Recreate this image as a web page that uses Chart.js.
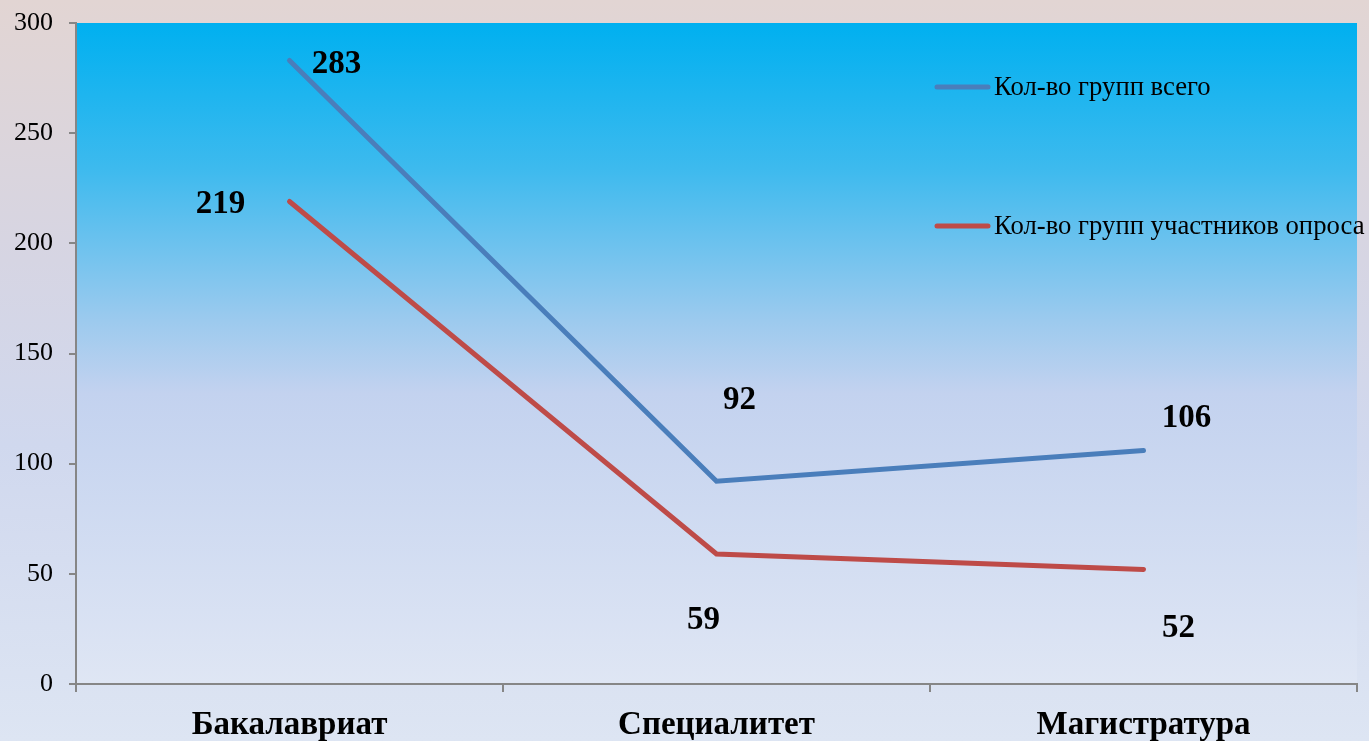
<!DOCTYPE html>
<html>
<head>
<meta charset="utf-8">
<script src="https://cdn.jsdelivr.net/npm/chart.js@4.4.1/dist/chart.umd.min.js"></script>
<style>
html,body{margin:0;padding:0;}
body{width:1369px;height:741px;overflow:hidden;
background:linear-gradient(to bottom,#e2d5d3 0%,#d6d5e3 35%,#d0d8ee 60%,#dde5f3 100%);}
canvas{display:block;}
</style>
</head>
<body>
<canvas id="c" width="1369" height="741"></canvas>
<script>
const categories = ['Бакалавриат', 'Специалитет', 'Магистратура'];
const seriesNames = ['Кол-во групп всего', 'Кол-во групп участников опроса'];
const totalGroups = [283, 92, 106];
const surveyedGroups = [219, 59, 52];
const yTicks = [0, 50, 100, 150, 200, 250, 300];

const seriesColors = ['#4a7ebb', '#be4b48'];
// label offsets (style): [dx, dy] relative to point
const labelOffsets = [
  [[47, 4], [23, -81], [43, -32]],
  [[-69, 3], [-13, 66], [35, 59]]
];

const bgPlugin = {
  id: 'plotBg',
  beforeDraw(chart) {
    const {ctx, chartArea: a} = chart;
    const g = ctx.createLinearGradient(0, a.top, 0, a.bottom);
    g.addColorStop(0, '#00b0f0');
    g.addColorStop(0.22, '#3dbaee');
    g.addColorStop(0.45, '#9ccaee');
    g.addColorStop(0.56, '#c3d2ef');
    g.addColorStop(1, '#dfe6f4');
    ctx.save();
    ctx.fillStyle = g;
    ctx.fillRect(a.left, a.top, a.right - a.left, a.bottom - a.top);
    ctx.restore();
  }
};

const labelPlugin = {
  id: 'labels',
  afterDatasetsDraw(chart) {
    const ctx = chart.ctx;
    ctx.save();
    ctx.font = 'bold 33px "Liberation Serif"';
    ctx.fillStyle = '#000';
    ctx.textAlign = 'center';
    ctx.textBaseline = 'middle';
    chart.data.datasets.forEach((ds, di) => {
      const meta = chart.getDatasetMeta(di);
      meta.data.forEach((pt, i) => {
        const o = labelOffsets[di][i];
        ctx.fillText(String(ds.data[i]), pt.x + o[0], pt.y + o[1]);
      });
    });
    ctx.restore();
  }
};

const legendPlugin = {
  id: 'customLegend',
  afterDraw(chart) {
    const ctx = chart.ctx;
    const ys = [87, 226];
    ctx.save();
    ctx.font = '26.7px "Liberation Serif"';
    ctx.textBaseline = 'middle';
    ctx.textAlign = 'left';
    chart.data.datasets.forEach((ds, i) => {
      ctx.strokeStyle = ds.borderColor;
      ctx.lineWidth = 5;
      ctx.lineCap = 'round';
      ctx.beginPath();
      ctx.moveTo(937, ys[i]);
      ctx.lineTo(988, ys[i]);
      ctx.stroke();
      ctx.fillStyle = '#000';
      ctx.fillText(ds.label, 994, ys[i] + 1);
    });
    ctx.restore();
  }
};

new Chart(document.getElementById('c'), {
  type: 'line',
  data: {
    labels: categories,
    datasets: [
      {label: seriesNames[0], data: totalGroups, borderColor: seriesColors[0], backgroundColor: seriesColors[0],
       borderWidth: 5, pointRadius: 0, tension: 0, borderCapStyle: 'round', borderJoinStyle: 'miter', fill: false},
      {label: seriesNames[1], data: surveyedGroups, borderColor: seriesColors[1], backgroundColor: seriesColors[1],
       borderWidth: 5, pointRadius: 0, tension: 0, borderCapStyle: 'round', borderJoinStyle: 'miter', fill: false}
    ]
  },
  options: {
    responsive: false,
    animation: false,
    devicePixelRatio: 1,
    layout: {padding: {top: 23, right: 12, left: 0, bottom: 0}},
    plugins: {legend: {display: false}, tooltip: {enabled: false}},
    scales: {
      x: {
        offset: true,
        grid: {offset: true, drawOnChartArea: false, drawTicks: true, tickLength: 8, color: '#868686', lineWidth: 2},
        border: {display: true, color: '#868686', width: 2},
        ticks: {color: '#000', font: {family: 'Liberation Serif', size: 33, weight: 'bold'}, padding: 14, maxRotation: 0},
        afterFit(s) { s.height = 57; s.paddingLeft = 0; s.paddingRight = 0; }
      },
      y: {
        min: 0, max: 300,
        afterBuildTicks(s) { s.ticks = yTicks.map(v => ({value: v})); },
        grid: {drawOnChartArea: false, drawTicks: true, tickLength: 7, color: '#868686', lineWidth: 2},
        border: {display: true, color: '#868686', width: 2},
        ticks: {color: '#000', font: {family: 'Liberation Serif', size: 26}, padding: 16},
        afterFit(s) { s.width = 76; s.paddingTop = 0; s.paddingBottom = 0; }
      }
    }
  },
  plugins: [bgPlugin, labelPlugin, legendPlugin]
});
</script>
</body>
</html>
